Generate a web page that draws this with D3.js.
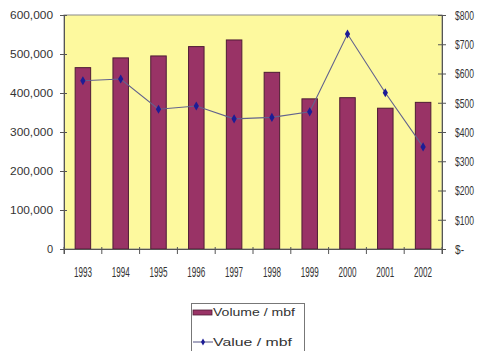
<!DOCTYPE html>
<html>
<head>
<meta charset="utf-8">
<script src="https://cdn.jsdelivr.net/npm/d3@7"></script>
<style>
  html, body { margin: 0; padding: 0; background: #ffffff; }
  svg { display: block; font-family: Arial, "Liberation Sans", sans-serif; }
</style>
</head>
<body>
<svg id="chart" width="484" height="351"></svg>
<script>
// Timber harvest: volume (bars, left axis) and unit value (line, right axis)
const years = ["1993","1994","1995","1996","1997","1998","1999","2000","2001","2002"];
const volumeMbf = [465000, 490000, 495000, 519000, 536000, 453000, 385000, 388000, 361000, 376000];
const valuePerMbf = [575, 581, 478, 489, 445, 450, 469, 735, 534, 349];
const volumeTicks = [0, 100000, 200000, 300000, 400000, 500000, 600000];
const valueTicks = [0, 100, 200, 300, 400, 500, 600, 700, 800];
const legendLabels = ["Volume / mbf", "Value / mbf"];

const svg = d3.select("#chart");
const plot = { left: 64, right: 442, top: 15, bottom: 249 };

const x = d3.scaleBand().domain(years).range([plot.left, plot.right]).padding(0);
const yVol = d3.scaleLinear().domain([0, 600000]).range([plot.bottom, plot.top]);
const yVal = d3.scaleLinear().domain([0, 800]).range([plot.bottom, plot.top]);

const axisColor = "#555";
const textColor = "#333";

// plot background
svg.append("rect")
  .attr("x", plot.left).attr("y", plot.top)
  .attr("width", plot.right - plot.left).attr("height", plot.bottom - plot.top)
  .attr("fill", "#fdf99e")
  .attr("stroke", "#8a8a8a").attr("stroke-width", 1);

// volume bars
const barW = x.bandwidth() * 0.41;
svg.append("g").selectAll("rect").data(years).join("rect")
  .attr("x", (d) => x(d) + (x.bandwidth() - barW) / 2)
  .attr("y", (d, i) => yVol(volumeMbf[i]))
  .attr("width", barW)
  .attr("height", (d, i) => plot.bottom - yVol(volumeMbf[i]))
  .attr("fill", "#993366")
  .attr("stroke", "#4e1c34").attr("stroke-width", 1);

// value line with diamond markers
const cx = (d) => x(d) + x.bandwidth() / 2;
const line = d3.line().x((d) => cx(d)).y((d, i) => yVal(valuePerMbf[i]));
svg.append("path").datum(years)
  .attr("d", line)
  .attr("fill", "none")
  .attr("stroke", "#62628e").attr("stroke-width", 1.1);
const diamond = d3.symbol().type(d3.symbolDiamond).size(24);
const legendDiamond = d3.symbol().type(d3.symbolDiamond).size(14);
svg.append("g").selectAll("path").data(years).join("path")
  .attr("d", diamond)
  .attr("transform", (d, i) => `translate(${cx(d)},${yVal(valuePerMbf[i])})`)
  .attr("fill", "#1c1c96");

// left axis
const gL = svg.append("g").attr("transform", `translate(${plot.left},0)`)
  .call(d3.axisLeft(yVol).tickValues(volumeTicks).tickFormat(d3.format(",")).tickSize(4));
gL.select(".domain").attr("stroke", axisColor);
gL.selectAll(".tick line").attr("stroke", axisColor).attr("x1", 3);
gL.selectAll(".tick text")
  .attr("x", -11).attr("dy", "0.36em")
  .attr("fill", textColor).attr("font-size", 11)
  .each(function (d) { if (d > 0) d3.select(this).attr("textLength", 43).attr("lengthAdjust", "spacingAndGlyphs"); });

// right axis
const gR = svg.append("g").attr("transform", `translate(${plot.right},0)`)
  .call(d3.axisRight(yVal).tickValues(valueTicks).tickFormat((d) => d === 0 ? "$-" : "$" + d).tickSize(4));
gR.select(".domain").attr("stroke", axisColor);
gR.selectAll(".tick line").attr("stroke", axisColor).attr("x1", -4);
gR.selectAll(".tick text")
  .attr("x", 13).attr("dy", "0.36em")
  .attr("fill", textColor).attr("font-size", 12)
  .attr("textLength", (d) => d === 0 ? 9 : 19).attr("lengthAdjust", "spacingAndGlyphs");

// bottom axis: ticks on category boundaries, labels centred under bars
const gB = svg.append("g").attr("transform", `translate(0,${plot.bottom})`)
  .call(d3.axisBottom(x).tickSize(5));
gB.select(".domain").attr("stroke", axisColor);
gB.selectAll(".tick line")
  .attr("stroke", axisColor)
  .attr("transform", `translate(${-x.bandwidth() / 2},0)`)
  .attr("y1", -2);
gB.append("line")
  .attr("x1", plot.right).attr("x2", plot.right).attr("y1", -2).attr("y2", 5)
  .attr("stroke", axisColor);
gB.selectAll(".tick text")
  .attr("y", 23).attr("dy", "0.36em")
  .attr("fill", textColor).attr("font-size", 15)
  .attr("textLength", 18).attr("lengthAdjust", "spacingAndGlyphs");

// legend
const lg = svg.append("g");
lg.append("rect")
  .attr("x", 191.5).attr("y", 303.5).attr("width", 113).attr("height", 52)
  .attr("fill", "#fff").attr("stroke", "#777");
lg.append("rect")
  .attr("x", 193).attr("y", 310).attr("width", 19).attr("height", 5)
  .attr("fill", "#993366").attr("stroke", "#4e1c34").attr("stroke-width", 0.8);
lg.append("line")
  .attr("x1", 193).attr("x2", 213).attr("y1", 342).attr("y2", 342)
  .attr("stroke", "#62628e").attr("stroke-width", 1.1);
lg.append("path").attr("d", legendDiamond).attr("transform", "translate(203,342)").attr("fill", "#1c1c96");
lg.selectAll("text.lbl").data(legendLabels).join("text")
  .attr("class", "lbl")
  .attr("x", 213).attr("y", (d, i) => 312 + i * 30).attr("dy", "0.36em")
  .attr("fill", textColor).attr("font-size", 11)
  .attr("textLength", (d, i) => i === 0 ? 82 : 79).attr("lengthAdjust", "spacingAndGlyphs")
  .text((d) => d);
</script>
</body>
</html>
